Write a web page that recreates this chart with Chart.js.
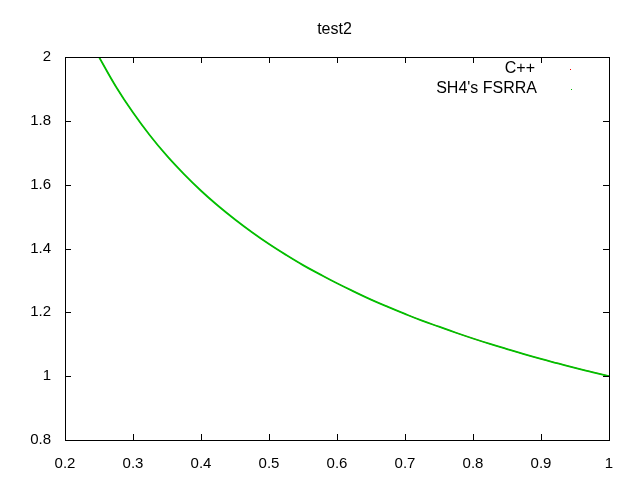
<!DOCTYPE html>
<html>
<head>
<meta charset="utf-8">
<script src="https://cdn.jsdelivr.net/npm/chart.js@4"></script>
<style>
html,body{margin:0;padding:0;background:#fff;}
#wrap{width:640px;height:480px;}
</style>
</head>
<body>
<div id="wrap"><canvas id="c" width="640" height="480"></canvas></div>
<script>
const titleText = "test2";
const seriesNames = ["C++", "SH4's FSRRA"];
const xValues = [0.25,0.275,0.3,0.325,0.35,0.375,0.4,0.425,0.45,0.475,0.5,0.525,0.55,0.575,0.6,0.625,0.65,0.675,0.7,0.725,0.75,0.775,0.8,0.825,0.85,0.875,0.9,0.925,0.95,0.975,1.0];
const cppValues = [2.000,1.907,1.826,1.754,1.690,1.633,1.581,1.534,1.491,1.451,1.414,1.380,1.348,1.319,1.291,1.265,1.240,1.217,1.195,1.174,1.155,1.136,1.118,1.101,1.085,1.069,1.054,1.040,1.026,1.013,1.000];
const fsrraValues = [2.000,1.907,1.826,1.754,1.690,1.633,1.581,1.534,1.491,1.451,1.414,1.380,1.348,1.319,1.291,1.265,1.240,1.217,1.195,1.174,1.155,1.136,1.118,1.101,1.085,1.069,1.054,1.040,1.026,1.013,1.000];
const xTicks = [0.2,0.3,0.4,0.5,0.6,0.7,0.8,0.9,1];
const yTicks = [0.8,1,1.2,1.4,1.6,1.8,2];

const FONT = "'Liberation Sans', Arial, sans-serif";

const ticksPlugin = {
  id: 'gnuTicks',
  afterDatasetsDraw(chart) {
    const {ctx, chartArea: a, scales} = chart;
    ctx.save();
    ctx.strokeStyle = '#000';
    ctx.lineWidth = 1;
    ctx.beginPath();
    const L = 6;
    xTicks.forEach(v => {
      const px = Math.round(scales.x.getPixelForValue(v)) + 0.5;
      ctx.moveTo(px, a.bottom); ctx.lineTo(px, a.bottom - L);
      ctx.moveTo(px, a.top); ctx.lineTo(px, a.top + L);
    });
    yTicks.forEach(v => {
      const py = Math.round(scales.y.getPixelForValue(v)) + 0.5;
      ctx.moveTo(a.left, py); ctx.lineTo(a.left + L, py);
      ctx.moveTo(a.right, py); ctx.lineTo(a.right - L, py);
    });
    ctx.stroke();
    ctx.strokeRect(Math.round(a.left)+0.5, Math.round(a.top)+0.5, Math.round(a.right-a.left), Math.round(a.bottom-a.top));
    // title
    ctx.fillStyle = '#000';
    ctx.textBaseline = 'middle';
    ctx.textAlign = 'center';
    ctx.font = '16px ' + FONT;
    ctx.fillText(titleText, 334.5, 30);
    // legend
    ctx.font = '16px ' + FONT;
    ctx.textAlign = 'right';
    ctx.fillText(seriesNames[0], 535, 69);
    ctx.fillText(seriesNames[1], 537, 89);
    ctx.fillStyle = '#ff0000';
    ctx.fillRect(570, 69, 1, 1);
    ctx.fillStyle = '#00c000';
    ctx.fillRect(571, 89, 1, 1);
    ctx.restore();
  }
};

new Chart(document.getElementById('c'), {
  type: 'line',
  data: {
    datasets: [
      {label: seriesNames[0], order: 2, data: xValues.map((x,i)=>({x, y: cppValues[i]})), borderColor:'#ff0000', borderWidth:1, pointRadius:0, tension:0.4, fill:false},
      {label: seriesNames[1], order: 1, data: xValues.map((x,i)=>({x, y: fsrraValues[i]})), borderColor:'#00c000', borderWidth:1.8, pointRadius:0, tension:0.4, fill:false}
    ]
  },
  options: {
    responsive: false,
    animation: false,
    devicePixelRatio: 1,
    layout: {padding: {left: 0, right: 31, top: 57, bottom: 0}},
    plugins: {
      legend: {display: false},
      tooltip: {enabled: false},
      title: {display: false}
    },
    scales: {
      x: {
        type: 'linear', min: 0.2, max: 1,
        afterFit(s){ s.height = 40; },
        afterBuildTicks(s){ s.ticks = xTicks.map(v=>({value:v})); },
        grid: {display:false, drawTicks:false},
        border: {display:false},
        ticks: {color:'#000', font:{family: FONT, size:15}, padding:15, maxRotation:0, autoSkip:false, callback: v => String(v)}
      },
      y: {
        type: 'linear', min: 0.8, max: 2,
        afterFit(s){ s.width = 65; },
        afterBuildTicks(s){ s.ticks = yTicks.map(v=>({value:v})); },
        grid: {display:false, drawTicks:false},
        border: {display:false},
        ticks: {color:'#000', font:{family: FONT, size:15}, padding:14, autoSkip:false, callback: v => String(v)}
      }
    }
  },
  plugins: [ticksPlugin]
});
</script>
</body>
</html>
